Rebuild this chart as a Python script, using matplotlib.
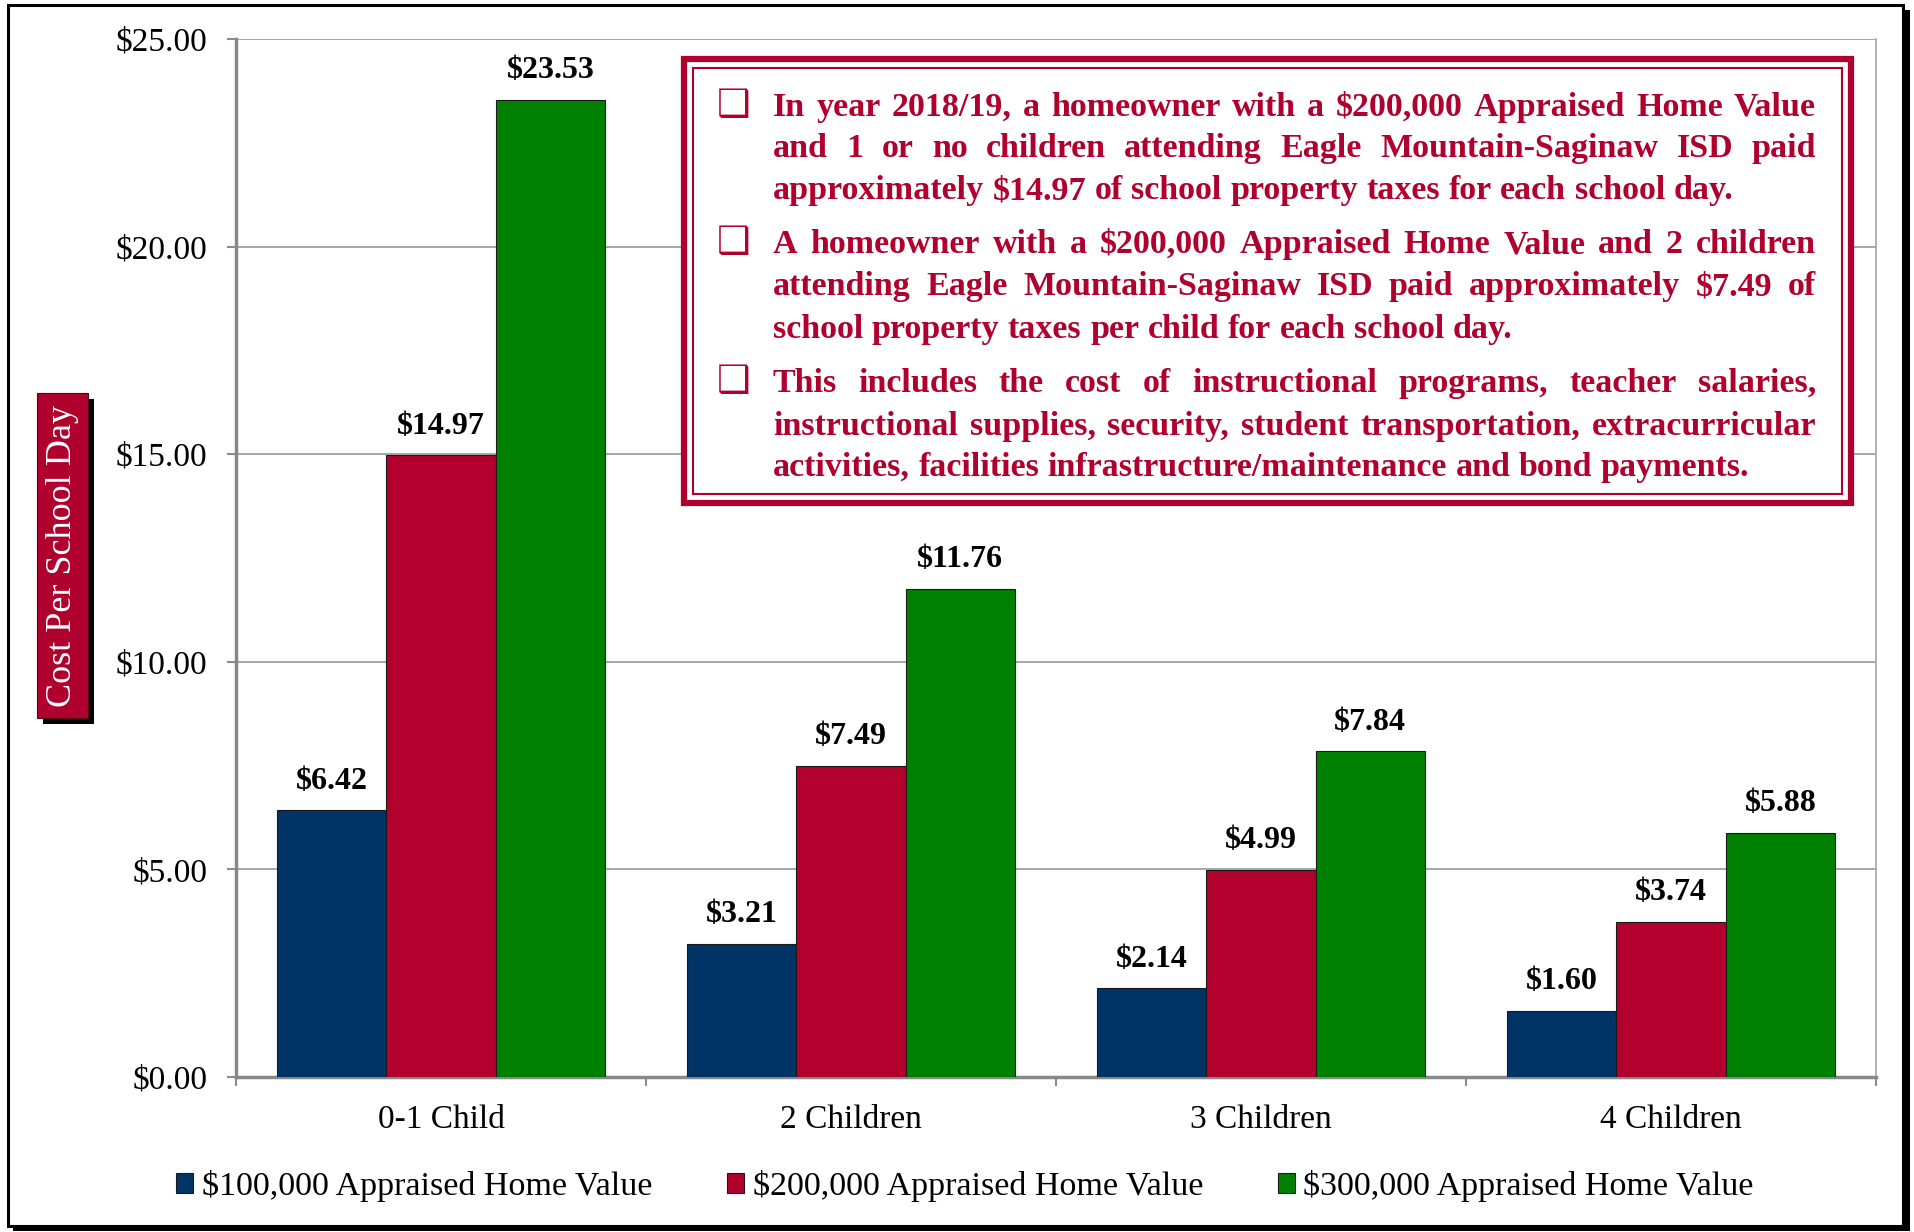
import numpy as np
import matplotlib.pyplot as plt
from matplotlib.patches import Rectangle

# данные с графика
categories = ['0-1 Child', '2 Children', '3 Children', '4 Children']
series_names = ['$100,000 Appraised Home Value',
                '$200,000 Appraised Home Value',
                '$300,000 Appraised Home Value']
values_100k = [6.42, 3.21, 2.14, 1.60]
values_200k = [14.97, 7.49, 4.99, 3.74]
values_300k = [23.53, 11.76, 7.84, 5.88]
y_ticks = [0, 5, 10, 15, 20, 25]
y_label = 'Cost Per School Day'

# абзацы текста в рамке (строки как в оригинале)
note_paragraphs = [
    ['In year 2018/19, a homeowner with a $200,000 Appraised Home Value',
     'and 1 or no children attending Eagle Mountain-Saginaw ISD paid',
     'approximately $14.97 of school property taxes for each school day.'],
    ['A homeowner with a $200,000 Appraised Home Value and 2 children',
     'attending Eagle Mountain-Saginaw ISD paid approximately $7.49 of',
     'school property taxes per child for each school day.'],
    ['This includes the cost of instructional programs, teacher salaries,',
     'instructional supplies, security, student transportation, extracurricular',
     'activities, facilities infrastructure/maintenance and bond payments.'],
]

colors = ['#003366', '#B3002D', '#008000']
text_red = '#B0002E'
serif = 'Liberation Serif'
W, H = 1915, 1232

fig = plt.figure(figsize=(W / 100, H / 100), dpi=100)
ax = fig.add_axes([236 / W, 1 - 1077 / H, (1876 - 236) / W, (1077 - 39) / H])

x = np.arange(len(categories))
bw = 0.2667
for j, vals in enumerate([values_100k, values_200k, values_300k]):
    bars = ax.bar(x + (j - 1) * bw, vals, bw, color=colors[j], edgecolor='#1a1a1a',
                  linewidth=0.8, label=series_names[j], zorder=3)
    for b, v in zip(bars, vals):
        ax.annotate(f'${v:.2f}', (b.get_x() + b.get_width() / 2, v),
                    xytext=(0, 10.5), textcoords='offset points', ha='center', va='bottom',
                    fontsize=23, fontweight='bold', family=serif)

ax.set_xlim(-0.5, 3.5)
ax.set_ylim(0, 25)
ax.set_yticks(y_ticks)
ax.set_yticklabels([f'${v:.2f}' for v in y_ticks], family=serif, fontsize=24)
ax.set_xticks(x)
ax.set_xticklabels(categories, family=serif, fontsize=24)
ax.set_xticks(np.arange(-0.5, 4, 1), minor=True)
ax.tick_params(axis='x', which='major', length=0, pad=20)
ax.tick_params(axis='x', which='minor', length=6.5, width=1.5, color='#8c8c8c')
ax.tick_params(axis='y', length=6.5, width=1.5, color='#8c8c8c', pad=14)
ax.grid(axis='y', color='#a6a6a6', linewidth=1.4, zorder=0)
ax.set_axisbelow(True)
for s in ['left', 'bottom']:
    ax.spines[s].set_color('#888888')
    ax.spines[s].set_linewidth(2.5)
ax.spines['right'].set_color('#a6a6a6')
ax.spines['right'].set_linewidth(1.2)
ax.spines['top'].set_visible(False)

# легенда
fig.legend(loc='center', bbox_to_anchor=(965 / W, 1 - 1186 / H), ncol=3, frameon=False,
           prop={'family': serif, 'size': 24.5}, handlelength=0.5, handleheight=0.5,
           handletextpad=0.25, columnspacing=2.2)

# слой поверх в пикселях
ov = fig.add_axes([0, 0, 1, 1], zorder=5)
ov.set_xlim(0, W)
ov.set_ylim(H, 0)
ov.axis('off')
ov.patch.set_visible(False)

# внешняя рамка с тенью
ov.add_patch(Rectangle((8, 5), 1895, 1221, fill=False, edgecolor='black', linewidth=2.2))
ov.add_patch(Rectangle((1903, 10), 7, 1221, facecolor='black', edgecolor='none'))
ov.add_patch(Rectangle((13, 1226), 1897, 5, facecolor='black', edgecolor='none'))

# подпись оси Y в красной плашке
ov.add_patch(Rectangle((43, 399), 51, 325, facecolor='black', edgecolor='none'))
ov.add_patch(Rectangle((37, 393), 51, 325, facecolor='#B0002E', edgecolor='#5a0016', linewidth=0.8))
ov.text(63, 556, y_label, rotation=90, ha='center', va='center', color='white',
        family=serif, fontsize=26)

# рамка с текстом
ov.add_patch(Rectangle((684, 59), 1167, 444, facecolor='white', edgecolor=text_red, linewidth=4.5))
ov.add_patch(Rectangle((693, 68), 1149, 426, fill=False, edgecolor=text_red, linewidth=1.5))

fig.canvas.draw()
r = fig.canvas.get_renderer()


def text_width(s, fs):
    t = ov.text(0, 0, s.replace('$', r'\$'), fontsize=fs, fontweight='bold', family=serif)
    w = t.get_window_extent(r).width
    t.remove()
    return w


x0, x1 = 773, 1816
line_len = x1 - x0
fs = 27
while fs > 14:
    widest = max(text_width(l, fs) for p in note_paragraphs for l in p)
    if widest <= line_len:
        break
    fs -= 0.5

line_centers = [[108, 149, 191], [245, 287, 330], [384, 427, 468]]
for p, centers in zip(note_paragraphs, line_centers):
    ov.text(734, centers[0] - 2, '\u2751', ha='center', va='center', color=text_red,
            fontsize=27, family='DejaVu Sans')
    for k, (line, yc) in enumerate(zip(p, centers)):
        words = line.split(' ')
        ws = [text_width(wd, fs) for wd in words]
        if k < len(p) - 1 and len(words) > 1:
            gap = (line_len - sum(ws)) / (len(words) - 1)
        else:
            gap = text_width('a b', fs) - text_width('ab', fs)
        xx = x0
        for wd, wdw in zip(words, ws):
            ov.text(xx, yc + 8, wd.replace('$', r'\$'), ha='left', va='baseline',
                    color=text_red, fontsize=fs, fontweight='bold', family=serif)
            xx += wdw + gap

fig.savefig('out.png', dpi=100)
